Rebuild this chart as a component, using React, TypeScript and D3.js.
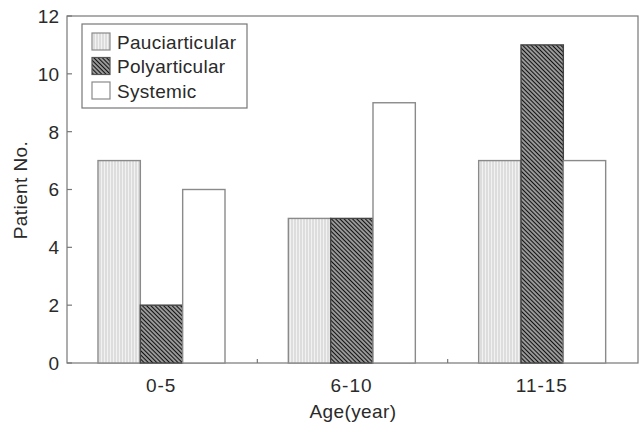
import React from "react";
import * as d3 from "d3";

const categories = ["0-5", "6-10", "11-15"];
const seriesNames = ["Pauciarticular", "Polyarticular", "Systemic"];
const pauci = [7, 5, 7];
const poly = [2, 5, 11];
const systemic = [6, 9, 7];
const yTicks = [0, 2, 4, 6, 8, 10, 12];

const W = 643, H = 426;
const left = 67, right = 638, top = 16, bottom = 363;

export default function App() {
  const x = d3.scaleBand<string>().domain(categories).range([left, right]).paddingInner(0).paddingOuter(0);
  const inner = d3.scaleBand<string>().domain(seriesNames).range([31, 31 + 127]);
  const y = d3.scaleLinear().domain([0, 12]).range([bottom, top]);
  const series = [pauci, poly, systemic];
  const fills = ["url(#vert)", "url(#diag)", "#fff"];
  const strokes = ["#8a8a8a", "#444", "#8a8a8a"];
  const font = "'Liberation Sans', Arial, sans-serif";
  const fs = 19;
  return (
    <svg width={W} height={H} style={{ position: "absolute", left: 0, top: 0 }}>
      <defs>
        <pattern id="vert" width="3" height="10" patternUnits="userSpaceOnUse">
          <rect width="3" height="10" fill="#f2f2f2" />
          <line x1="1" y1="0" x2="1" y2="10" stroke="#c8c8c8" strokeWidth="1" />
        </pattern>
        <pattern id="diag" width="3" height="10" patternUnits="userSpaceOnUse" patternTransform="rotate(-45)">
          <rect width="3" height="10" fill="#e0e0e0" />
          <line x1="1.5" y1="0" x2="1.5" y2="10" stroke="#111" strokeWidth="1.7" />
        </pattern>
      </defs>
      <rect x={0} y={0} width={W} height={H} fill="#fff" />
      <rect x={left} y={top} width={right - left} height={bottom - top} fill="none" stroke="#777" strokeWidth={1.2} />
      {yTicks.map((t) => (
        <g key={t}>
          <line x1={left} x2={left + 5} y1={y(t)} y2={y(t)} stroke="#777" strokeWidth={1.2} />
          <text x={59} y={y(t)} dy="0.36em" textAnchor="end" fontSize={fs} fontFamily={font} fill="#2a2a2a">{t}</text>
        </g>
      ))}
      {categories.slice(1).map((c) => (
        <line key={c} x1={x(c)!} x2={x(c)!} y1={bottom} y2={bottom - 4} stroke="#777" strokeWidth={1.2} />
      ))}
      {categories.map((c, ci) =>
        seriesNames.map((s, si) => (
          <rect
            key={c + s}
            x={x(c)! + inner(s)!}
            y={y(series[si][ci])}
            width={inner.bandwidth()}
            height={bottom - y(series[si][ci])}
            fill={fills[si]}
            stroke={strokes[si]}
            strokeWidth={1.4}
          />
        ))
      )}
      {categories.map((c) => (
        <text key={c} x={x(c)! + x.bandwidth() / 2 - 1} y={385} dy="0.36em" textAnchor="middle" fontSize={fs} fontFamily={font} fill="#2a2a2a" letterSpacing={1}>{c}</text>
      ))}
      <text x={353} y={411} dy="0.36em" textAnchor="middle" fontSize={fs} fontFamily={font} fill="#2a2a2a" letterSpacing={0.4}>Age(year)</text>
      <text transform={`translate(20,190) rotate(-90)`} textAnchor="middle" dy="0.36em" fontSize={fs} fontFamily={font} fill="#2a2a2a" letterSpacing={0.4}>Patient No.</text>
      <rect x={82} y={24} width={165} height={84} fill="#fff" stroke="#777" strokeWidth={1.2} />
      {seriesNames.map((s, i) => (
        <g key={s}>
          <rect x={92} y={33 + i * 24.5} width={18} height={17} fill={fills[i]} stroke={strokes[i] === "#444" ? "#555" : "#8a8a8a"} strokeWidth={1.2} />
          <text x={117} y={42 + i * 24.5} dy="0.36em" fontSize={fs} fontFamily={font} fill="#2a2a2a" letterSpacing={0.3}>{s}</text>
        </g>
      ))}
    </svg>
  );
}
